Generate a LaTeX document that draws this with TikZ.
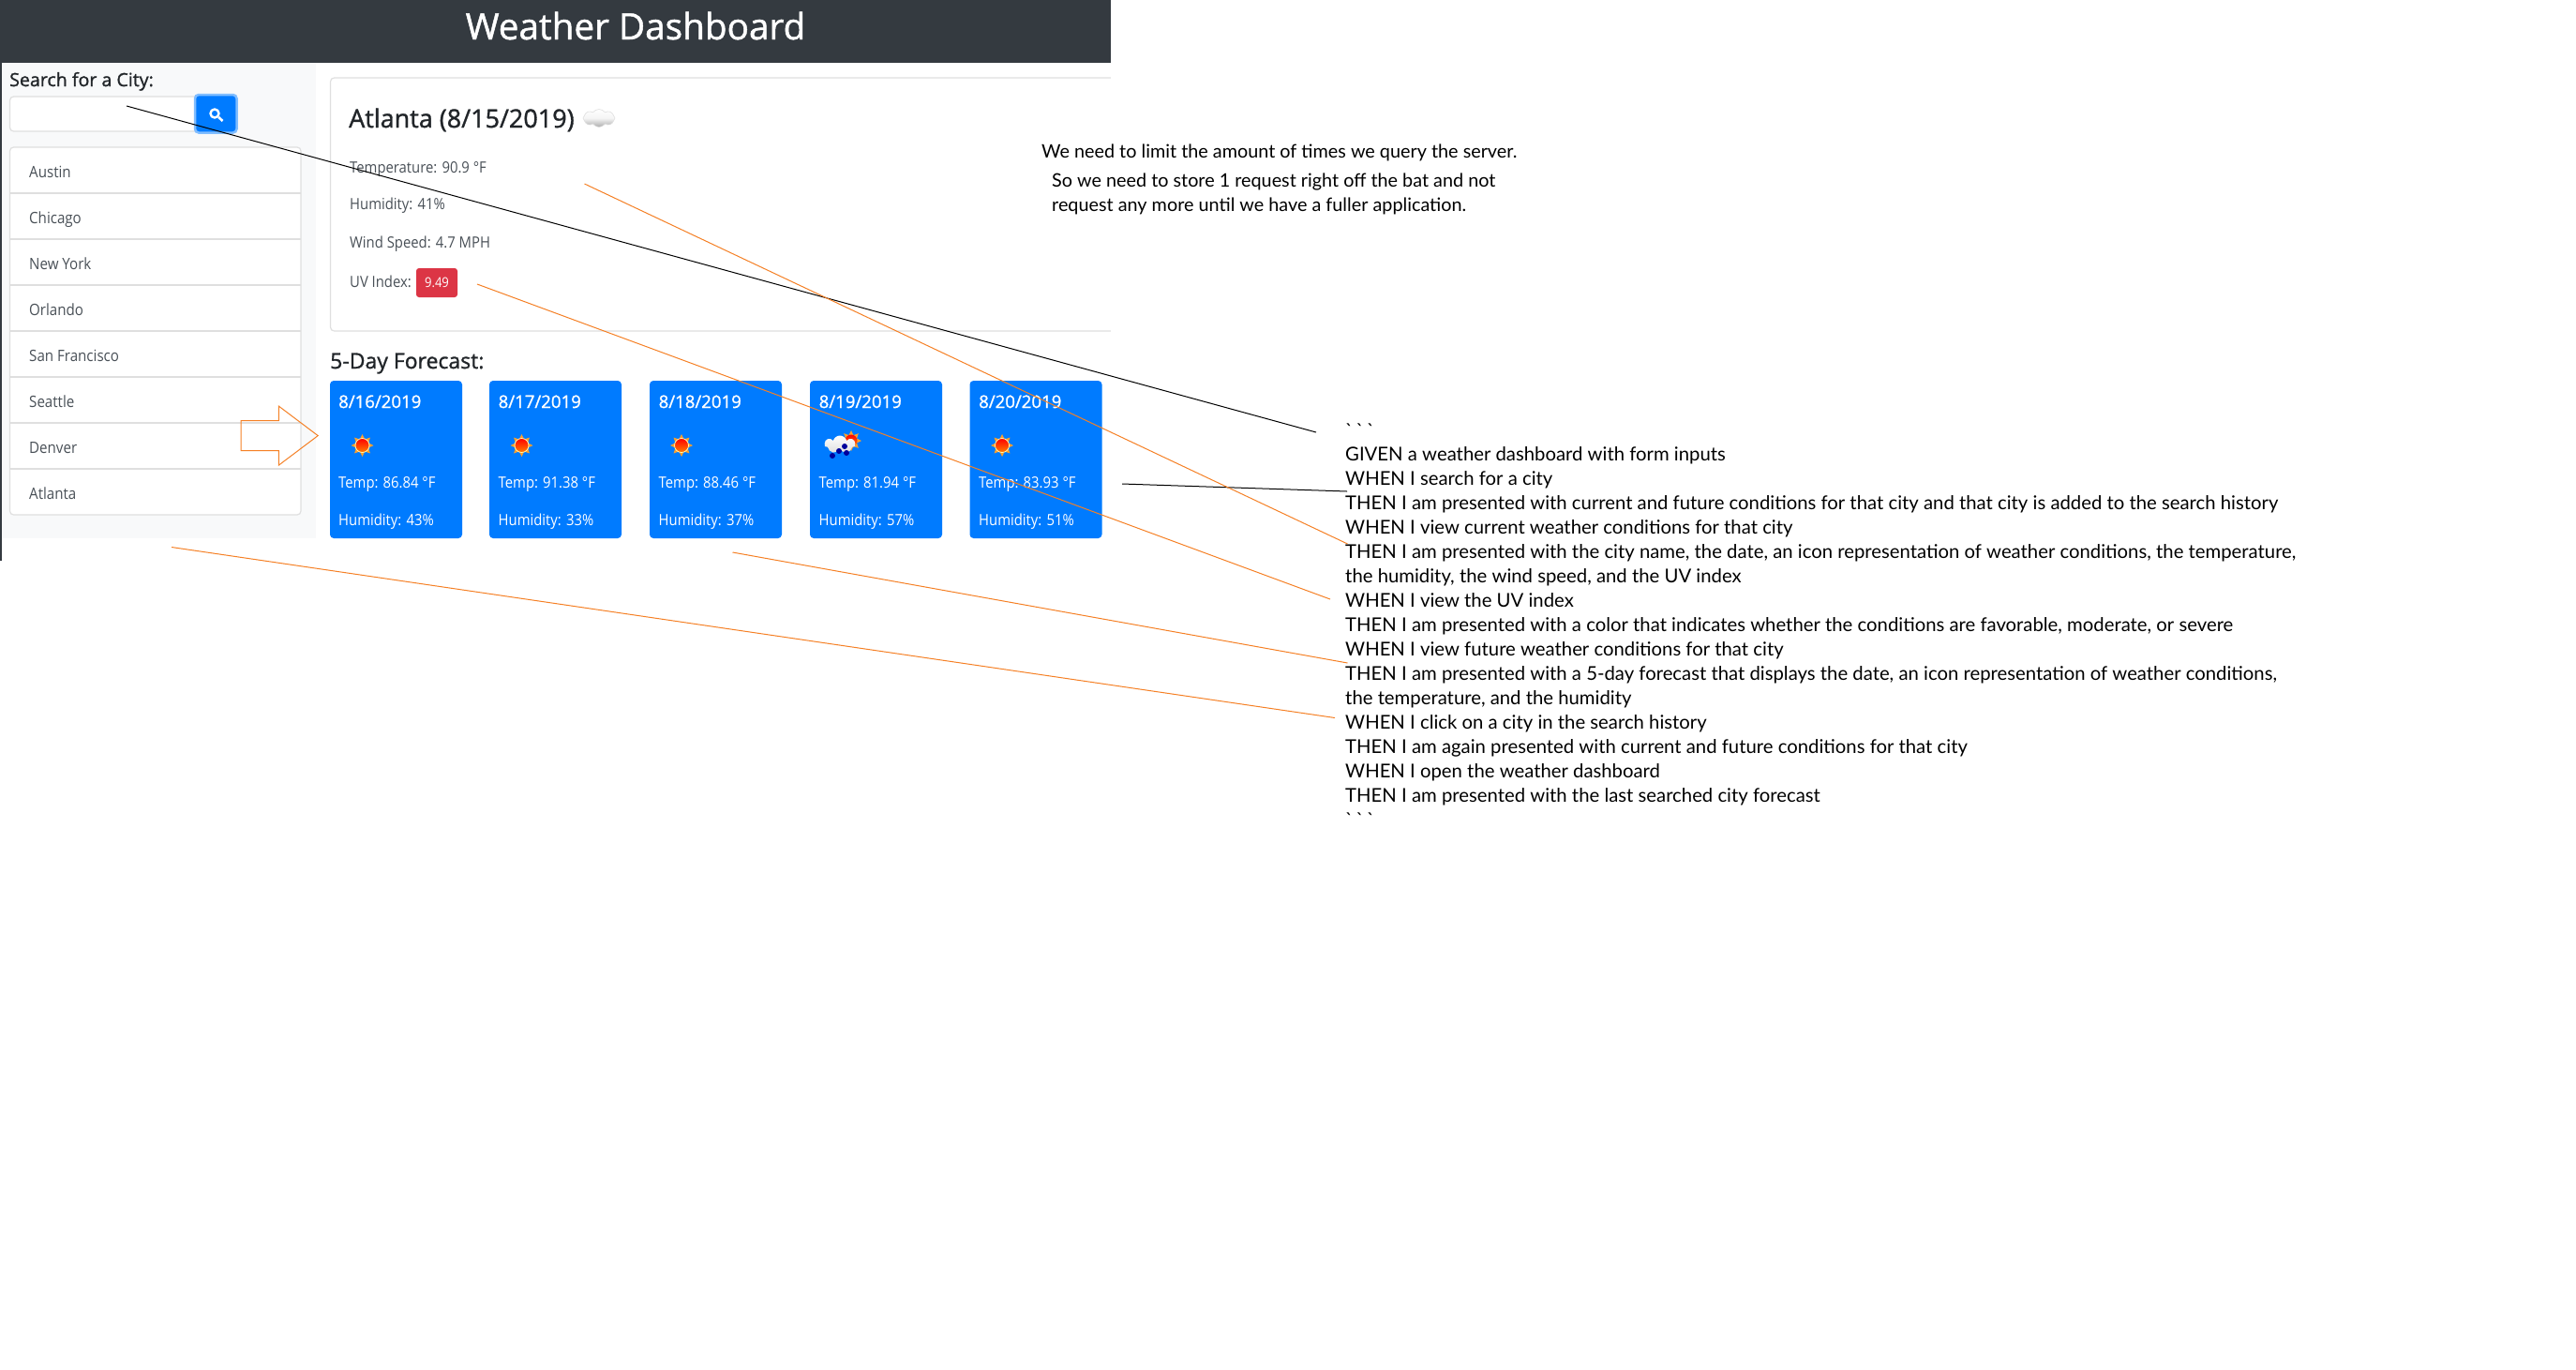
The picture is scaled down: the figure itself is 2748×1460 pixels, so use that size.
\documentclass[tikz,border=0pt]{standalone}
\usepackage{fontspec}
\usepackage{xcolor}
\usetikzlibrary{shapes.arrows, shapes.geometric, shapes.symbols}
\setmainfont{Open Sans}
\newfontfamily\uifont[FakeStretch=0.9]{Open Sans}
\newfontfamily\headfont[FakeBold=1.2]{Open Sans}
\newfontfamily\storyfont{Lato}
\definecolor{navdark}{HTML}{343A40}
\definecolor{sidelight}{HTML}{F8F9FA}
\definecolor{lineborder}{HTML}{DFDFDF}
\definecolor{bluecard}{HTML}{007BFF}
\definecolor{bluering}{HTML}{80BDFF}
\definecolor{uvred}{HTML}{DC3545}
\definecolor{inktext}{HTML}{212529}
\definecolor{listtext}{HTML}{495057}
\definecolor{calloutline}{HTML}{F58025}
\definecolor{sunray}{HTML}{F9A030}
\definecolor{dropblue}{HTML}{00009C}
\tikzset{
  panel/.style={anchor=north west, inner sep=0pt, outer sep=0pt},
  cityitem/.style={anchor=base west, inner sep=0pt, text=listtext, font=\uifont\fontsize{16.8}{20}\selectfont},
  infoline/.style={anchor=base west, inner sep=0pt, text=listtext, font=\uifont\fontsize{16.5}{20}\selectfont},
  daycard/.style={panel, fill=bluecard, rounded corners=4pt, minimum width=141pt, minimum height=168pt},
  dayhead/.style={anchor=base west, inner sep=0pt, text=white, font=\headfont\fontsize{18.6}{22}\selectfont},
  dayline/.style={anchor=base west, inner sep=0pt, text=white, font=\uifont\fontsize{16.5}{20}\selectfont},
  noteline/.style={anchor=base west, inner sep=0pt, text=black, font=\storyfont\fontsize{19.8}{24}\selectfont},
  storyline/.style={anchor=base west, inner sep=0pt, text=black, font=\storyfont\fontsize{20.3}{24}\selectfont},
  raindrop/.style={circle, minimum size=6pt, inner sep=0pt, fill=dropblue},
  blackline/.style={draw=black, line width=1pt},
  orangeline/.style={draw=calloutline, line width=1pt},
  sunicon/.pic={
    \node[star, star points=8, star point ratio=1.7, minimum size=24pt, inner sep=0pt, fill=sunray] (-rays) at (0,0) {};
    \node[circle, minimum size=15pt, inner sep=0pt, draw=white!70!yellow, line width=0.8pt, top color=red, bottom color=orange] (-disc) at (0,0) {};
  }
}
\begin{document}
\begin{tikzpicture}[x=1pt, y=-1pt]
  \useasboundingbox (0,0) rectangle (2748,1460);
  \node[panel, fill=sidelight, minimum width=336pt, minimum height=507pt] (sidebar) at (1,67) {};
  \node[panel, fill=navdark, minimum width=1184pt, minimum height=67pt] (navbar) at (1,0) {};
  \node[panel, fill=navdark, minimum width=1.5pt, minimum height=598pt] (edge) at (0,0) {};
  \node[anchor=base, inner sep=0pt, text=white, font=\headfont\fontsize{38.7}{46}\selectfont] (title) at (678,42) {Weather Dashboard};

  \node[anchor=base west, inner sep=0pt, text=inktext, font=\headfont\fontsize{19.6}{24}\selectfont] (searchlabel) at (10,92) {Search for a City:};
  \node[panel, draw=lineborder, fill=white, rounded corners=4pt, line width=1.2pt, minimum width=204pt, minimum height=37pt] (searchbox) at (10.5,103) {};
  \node[panel, draw=bluering, fill=bluecard, rounded corners=4pt, line width=2.5pt, minimum width=44.5pt, minimum height=40.5pt] (searchbtn) at (208,101) {};
  \node[circle, draw=white, line width=2.4pt, minimum size=9pt, inner sep=0pt] (lens) at (229,121) {};
  \coordinate (lenstail) at (237.5,129);
  \draw[white, line width=2.6pt] (lens) -- (lenstail);

  \node[panel, draw=lineborder, fill=white, rounded corners=4pt, line width=1.2pt, minimum width=310.5pt, minimum height=392pt] (citylist) at (10.5,157) {};
  \draw[lineborder, line width=1.2pt] (citylist.north west) ++(0,49) coordinate (sepa) -- (citylist.north east |- sepa);
  \draw[lineborder, line width=1.2pt] (citylist.north west) ++(0,98) coordinate (sepb) -- (citylist.north east |- sepb);
  \draw[lineborder, line width=1.2pt] (citylist.north west) ++(0,147) coordinate (sepc) -- (citylist.north east |- sepc);
  \draw[lineborder, line width=1.2pt] (citylist.north west) ++(0,196) coordinate (sepd) -- (citylist.north east |- sepd);
  \draw[lineborder, line width=1.2pt] (citylist.north west) ++(0,245) coordinate (sepe) -- (citylist.north east |- sepe);
  \draw[lineborder, line width=1.2pt] (citylist.north west) ++(0,294) coordinate (sepf) -- (citylist.north east |- sepf);
  \draw[lineborder, line width=1.2pt] (citylist.north west) ++(0,343) coordinate (sepg) -- (citylist.north east |- sepg);
  \node[cityitem] (austin) at (31,189) {Austin};
  \node[cityitem] (chicago) at (31,238) {Chicago};
  \node[cityitem] (newyork) at (31,287) {New York};
  \node[cityitem] (orlando) at (31,336) {Orlando};
  \node[cityitem] (sanfran) at (31,385) {San Francisco};
  \node[cityitem] (seattle) at (31,434) {Seattle};
  \node[cityitem] (denver) at (31,483) {Denver};
  \node[cityitem] (atlanta) at (31,532) {Atlanta};

  \node[panel, draw=lineborder, fill=white, rounded corners=4pt, line width=1.2pt, minimum width=840pt, minimum height=270pt] (current) at (352.5,83) {};
  \fill[white] (1185,70) rectangle (1200,360);
  \node[anchor=base west, inner sep=0pt, text=inktext, font=\headfont\fontsize{27}{32}\selectfont] (cityname) at (372,136) {Atlanta (8/15/2019)};
  \node[cloud, cloud puffs=8, cloud puff arc=110, aspect=1.9, minimum width=34pt, minimum height=19pt, inner sep=0pt, draw=gray!25, line width=0.6pt, top color=white, bottom color=gray!65, middle color=white!92!gray] (cloudicon) at (639,126) {};
  \node[infoline] (temp) at (373,184) {Temperature: 90.9 °F};
  \node[infoline] (humid) at (373,223.5) {Humidity: 41\%};
  \node[infoline] (wind) at (373,264) {Wind Speed: 4.7 MPH};
  \node[infoline] (uvlabel) at (373,306) {UV Index:};
  \node[panel, fill=uvred, rounded corners=3pt, minimum width=44pt, minimum height=31pt, text=white, font=\uifont\fontsize{14.5}{18}\selectfont] (uvbadge) at (444,286) {9.49};

  \node[anchor=base west, inner sep=0pt, text=inktext, font=\headfont\fontsize{23}{28}\selectfont] (forecast) at (352,393) {5-Day Forecast:};
  \node[daycard] (dayone) at (352,406) {};
  \node[daycard] (daytwo) at (522,406) {};
  \node[daycard] (daythree) at (693,406) {};
  \node[daycard] (dayfour) at (864,406) {};
  \node[daycard] (dayfive) at (1034.5,406) {};
  \node[dayhead] (dateone) at (361,435) {8/16/2019};
  \node[dayhead] (datetwo) at (531.5,435) {8/17/2019};
  \node[dayhead] (datethree) at (702.5,435) {8/18/2019};
  \node[dayhead] (datefour) at (873.5,435) {8/19/2019};
  \node[dayhead] (datefive) at (1044,435) {8/20/2019};
  \pic (sunone) at (386.5,475) {sunicon};
  \pic (suntwo) at (556.5,475) {sunicon};
  \pic (sunthree) at (727,475) {sunicon};
  \pic (sunfive) at (1069,475) {sunicon};
  \node[star, star points=8, star point ratio=1.7, minimum size=22pt, inner sep=0pt, fill=sunray] (rainrays) at (908,470) {};
  \node[circle, minimum size=13pt, inner sep=0pt, top color=red, bottom color=orange] (rainsun) at (908,470) {};
  \node[cloud, cloud puffs=7, aspect=1.7, minimum width=33pt, minimum height=19pt, inner sep=0pt, top color=white, bottom color=gray!25] (raincloud) at (896,474) {};
  \node[raindrop] (dropa) at (888,486) {};
  \node[raindrop] (dropb) at (895,481) {};
  \node[raindrop] (dropc) at (901,476) {};
  \node[raindrop] (dropd) at (903,483) {};
  \node[dayline] (tempone) at (361,520) {Temp: 86.84 °F};
  \node[dayline] (temptwo) at (531.5,520) {Temp: 91.38 °F};
  \node[dayline] (tempthree) at (702.5,520) {Temp: 88.46 °F};
  \node[dayline] (tempfour) at (873.5,520) {Temp: 81.94 °F};
  \node[dayline] (tempfive) at (1044,520) {Temp: 83.93 °F};
  \node[dayline] (humone) at (361,560) {Humidity: 43\%};
  \node[dayline] (humtwo) at (531.5,560) {Humidity: 33\%};
  \node[dayline] (humthree) at (702.5,560) {Humidity: 37\%};
  \node[dayline] (humfour) at (873.5,560) {Humidity: 57\%};
  \node[dayline] (humfive) at (1044,560) {Humidity: 51\%};

  \node[noteline] (notea) at (1111,168) {We need to limit the amount of times we query the server.};
  \node[noteline] (noteb) at (1122,199) {So we need to store 1 request right off the bat and not};
  \node[noteline] (notec) at (1122,225) {request any more until we have a fuller application.};

  \node[storyline] (fenceopen) at (1435,466) {`\,`\,`};
  \node[storyline] (storyb) at (1435,491) {GIVEN a weather dashboard with form inputs};
  \node[storyline] (storyc) at (1435,517) {WHEN I search for a city};
  \node[storyline] (storyd) at (1435,543) {THEN I am presented with current and future conditions for that city and that city is added to the search history};
  \node[storyline] (storye) at (1435,569) {WHEN I view current weather conditions for that city};
  \node[storyline] (storyf) at (1435,595) {THEN I am presented with the city name, the date, an icon representation of weather conditions, the temperature,};
  \node[storyline] (storyg) at (1435,621) {the humidity, the wind speed, and the UV index};
  \node[storyline] (storyh) at (1435,647) {WHEN I view the UV index};
  \node[storyline] (storyi) at (1435,673) {THEN I am presented with a color that indicates whether the conditions are favorable, moderate, or severe};
  \node[storyline] (storyj) at (1435,699) {WHEN I view future weather conditions for that city};
  \node[storyline] (storyk) at (1435,725) {THEN I am presented with a 5-day forecast that displays the date, an icon representation of weather conditions,};
  \node[storyline] (storyl) at (1435,751) {the temperature, and the humidity};
  \node[storyline] (storym) at (1435,777) {WHEN I click on a city in the search history};
  \node[storyline] (storyn) at (1435,803) {THEN I am again presented with current and future conditions for that city};
  \node[storyline] (storyo) at (1435,829) {WHEN I open the weather dashboard};
  \node[storyline] (storyp) at (1435,855) {THEN I am presented with the last searched city forecast};
  \node[storyline] (fenceclose) at (1435,881) {`\,`\,`};

  \node[single arrow, draw=calloutline, fill=none, line width=1pt, anchor=tip, minimum height=82pt, inner xsep=0pt, inner ysep=15.5pt, single arrow head extend=15.5pt, single arrow tip angle=74] (historyarrow) at (340,464.6) {};

  \coordinate (searchstart) at (135,113);
  \coordinate (searchend) at (1404,461);
  \coordinate (fivestart) at (1197,516);
  \coordinate (fiveend) at (1437,524);
  \coordinate (currentstart) at (623.5,196);
  \coordinate (currentend) at (1437.5,580);
  \coordinate (uvstart) at (509,303);
  \coordinate (uvend) at (1419,639);
  \coordinate (futurestart) at (781.5,589);
  \coordinate (futureend) at (1437.5,707);
  \coordinate (historystart) at (183,583.5);
  \coordinate (historyend) at (1424,765.5);
  \draw[blackline] (searchstart) -- (searchend);
  \draw[blackline] (fivestart) -- (fiveend);
  \draw[orangeline] (currentstart) -- (currentend);
  \draw[orangeline] (uvstart) -- (uvend);
  \draw[orangeline] (futurestart) -- (futureend);
  \draw[orangeline] (historystart) -- (historyend);
\end{tikzpicture}
\end{document}
